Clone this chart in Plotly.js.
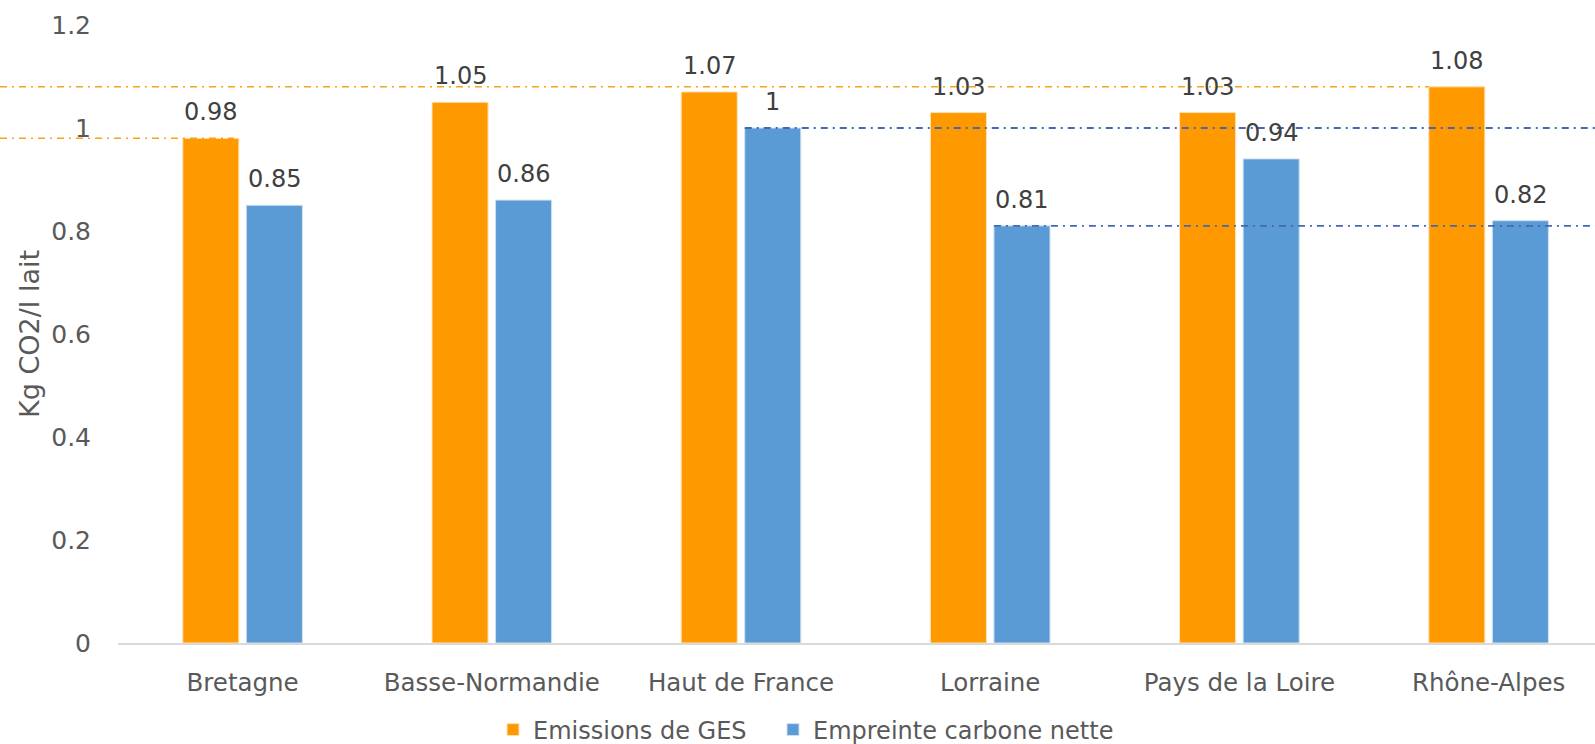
<!DOCTYPE html>
<html>
<head>
<meta charset="utf-8">
<script src="https://cdn.plot.ly/plotly-3.0.1.min.js"></script>
<style>html,body{margin:0;padding:0;background:#fff;}#chart{width:1595px;height:744px;}</style>
</head>
<body>
<div id="chart"></div>
<script>
// ---- data ----
var categories = ['Bretagne', 'Basse-Normandie', 'Haut de France', 'Lorraine', 'Pays de la Loire', 'Rhône-Alpes'];
var emissionsGES = [0.98, 1.05, 1.07, 1.03, 1.03, 1.08];
var empreinteNette = [0.85, 0.86, 1.00, 0.81, 0.94, 0.82];
var seriesNames = ['Emissions de GES', 'Empreinte carbone nette'];
var yTicks = [0, 0.2, 0.4, 0.6, 0.8, 1, 1.2];
var yTickLabels = ['0', '0.2', '0.4', '0.6', '0.8', '1', '1.2'];
// reference lines: categories whose bar value is traced by a dash-dot line
var orangeRefCats = ['Bretagne', 'Rhône-Alpes'];
var blueRefCats = ['Haut de France', 'Lorraine'];

// ---- styling / geometry ----
var FONT = 'DejaVu Sans, Verdana, sans-serif';
var ORANGE = '#FF9900', BLUE = '#5B9BD5', ORANGE_LINE = '#F7A21B', BLUE_LINE = '#4468B4';
var M = {l: 118, r: 0, t: 25, b: 101};
var W = 1595, H = 744;
var plotW = W - M.l - M.r;
var pxPerCat = 249.2;
var xMin = -0.5, xMax = -0.5 + plotW / pxPerCat;
var bargap = 0.49, bargroupgap = 0.118;
var groupW = 1 - bargap;
var slotW = groupW / 2;
var barW = slotW * (1 - bargroupgap);
var orangeOff = -slotW / 2, blueOff = slotW / 2;
function toPaperX(v) { return (v - xMin) / (xMax - xMin); }
var yMax = 1.2;
function toPaperY(v) { return v / yMax; }

var traces = [
  {type: 'bar', name: seriesNames[0], x: categories, y: emissionsGES, legend: 'legend',
   marker: {color: ORANGE, line: {color: '#FFE2B8', width: 1}}, hoverinfo: 'x+y'},
  {type: 'bar', name: seriesNames[1], x: categories, y: empreinteNette, legend: 'legend2',
   marker: {color: BLUE, line: {color: '#CFE0F1', width: 1}}, hoverinfo: 'x+y'}
];

var labelFont = {family: FONT, size: 24, color: '#404040'};
var annotations = [];
categories.forEach(function (c, i) {
  annotations.push({x: i + orangeOff, y: emissionsGES[i], xref: 'x', yref: 'y', text: String(emissionsGES[i]),
    showarrow: false, yanchor: 'bottom', yshift: 10, font: labelFont});
  annotations.push({x: i + blueOff, y: empreinteNette[i], xref: 'x', yref: 'y', text: String(empreinteNette[i]),
    showarrow: false, yanchor: 'bottom', yshift: 10, font: labelFont});
});

var shapes = [];
var leftEdge = -M.l / plotW;
orangeRefCats.forEach(function (c, k) {
  var i = categories.indexOf(c);
  var xEnd = (k === 0) ? (i + orangeOff + barW / 2 - 0.02) : (i + orangeOff - barW / 2);
  shapes.push({type: 'line', xref: 'paper', yref: 'paper', x0: leftEdge, x1: toPaperX(xEnd),
    y0: toPaperY(emissionsGES[i]), y1: toPaperY(emissionsGES[i]),
    line: {color: ORANGE_LINE, width: 1.5, dash: '7px,5px,2px,5px'}});
});
blueRefCats.forEach(function (c) {
  var i = categories.indexOf(c);
  var xStart = i + blueOff - barW / 2;
  shapes.push({type: 'line', xref: 'paper', yref: 'paper', x0: toPaperX(xStart), x1: 1,
    y0: toPaperY(empreinteNette[i]), y1: toPaperY(empreinteNette[i]),
    line: {color: BLUE_LINE, width: 1.8, dash: '7px,5px,2px,5px'}});
});

var legendFont = {family: FONT, size: 24, color: '#595959'};
var layout = {
  width: W, height: H,
  margin: M,
  paper_bgcolor: '#ffffff', plot_bgcolor: '#ffffff',
  font: {family: FONT, color: '#595959', size: 22},
  barmode: 'group', bargap: bargap, bargroupgap: bargroupgap,
  showlegend: true,
  legend: {orientation: 'h', xref: 'container', yref: 'container', x: 493 / W, y: 1 - 730 / H,
    xanchor: 'left', yanchor: 'middle', font: legendFont},
  legend2: {orientation: 'h', xref: 'container', yref: 'container', x: 773 / W, y: 1 - 730 / H,
    xanchor: 'left', yanchor: 'middle', font: legendFont},
  xaxis: {type: 'category', range: [xMin, xMax], showgrid: false, zeroline: false,
    showline: true, linecolor: '#D9D9D9', linewidth: 2, ticks: '', ticklabelstandoff: 17,
    tickfont: {family: FONT, size: 24.5, color: '#595959'}, fixedrange: true, automargin: false},
  yaxis: {range: [0, yMax], tickvals: yTicks, ticktext: yTickLabels, showgrid: false, zeroline: false,
    showline: false, ticks: '', ticklabelstandoff: 26,
    tickfont: {family: FONT, size: 25, color: '#595959'},
    title: {text: 'Kg CO2/l lait', font: {family: FONT, size: 27, color: '#595959'}, standoff: 3},
    automargin: false, fixedrange: true},
  annotations: annotations,
  shapes: shapes
};

Plotly.newPlot('chart', traces, layout, {displayModeBar: false, staticPlot: true});
</script>
</body>
</html>
